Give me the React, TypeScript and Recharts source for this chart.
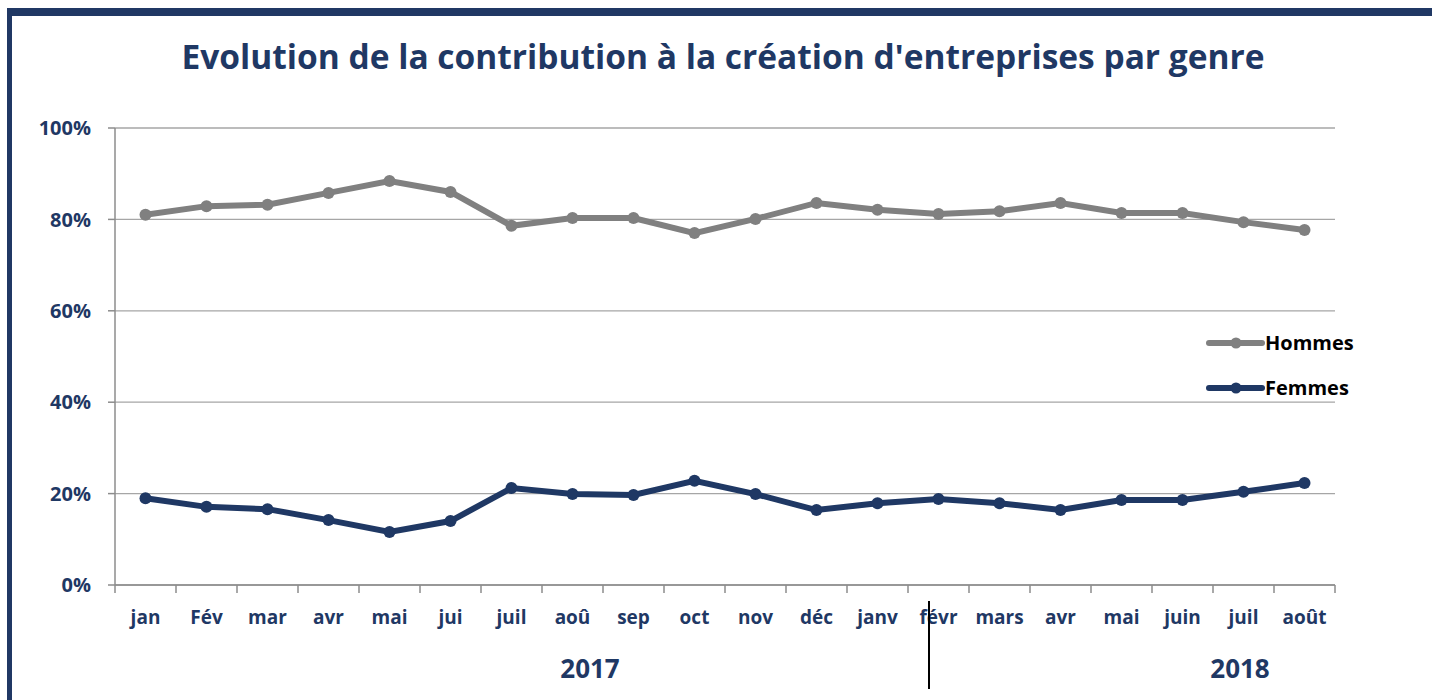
import React from 'react';
import { LineChart, Line, XAxis, YAxis, CartesianGrid } from 'recharts';

const months = ['jan', 'Fév', 'mar', 'avr', 'mai', 'jui', 'juil', 'aoû', 'sep', 'oct', 'nov', 'déc', 'janv', 'févr', 'mars', 'avr', 'mai', 'juin', 'juil', 'août'];
const hommes = [81.0, 82.9, 83.2, 85.8, 88.4, 86.0, 78.6, 80.3, 80.3, 77.0, 80.1, 83.6, 82.1, 81.2, 81.8, 83.6, 81.4, 81.4, 79.4, 77.7];
const femmes = [19.0, 17.1, 16.6, 14.2, 11.6, 14.0, 21.2, 19.9, 19.7, 22.8, 19.9, 16.4, 17.9, 18.8, 17.9, 16.4, 18.6, 18.6, 20.4, 22.3];
const yTicks = [0, 20, 40, 60, 80, 100];
const seriesNames = ['Hommes', 'Femmes'];
const yearLabels = ['2017', '2018'];
const title = "Evolution de la contribution à la création d'entreprises par genre";

const data = months.map((m, i) => ({ idx: i, month: m, Hommes: hommes[i], Femmes: femmes[i] }));

const NAVY = '#1f3864';
const GREY = '#808080';
const AXIS = '#8c8c8c';
const FONT = '"Open Sans", sans-serif';
const TICK_SIZE = 8;
const TICK_MARGIN = 18;

const MonthTick = (props: any) => {
  const { x, y, payload, index, visibleTicksCount, width } = props;
  const band = width / visibleTicksCount;
  const axisY = y - TICK_SIZE - TICK_MARGIN;
  const left = x - band / 2;
  const right = x + band / 2;
  return (
    <g>
      <line x1={left} x2={left} y1={axisY} y2={axisY + TICK_SIZE} stroke={AXIS} strokeWidth={1.5} />
      {index === visibleTicksCount - 1 && (
        <line x1={right} x2={right} y1={axisY} y2={axisY + TICK_SIZE} stroke={AXIS} strokeWidth={1.5} />
      )}
      <text x={x} y={y} dy="0.71em" textAnchor="middle" fill={NAVY} fontSize={19} fontWeight={700} fontFamily={FONT}>
        {months[payload.value]}
      </text>
    </g>
  );
};

const LegendBox = () => (
  <div style={{ position: 'absolute', left: 1205, top: 320, fontFamily: FONT }}>
    {seriesNames.map((n, i) => (
      <div key={n} style={{ display: 'flex', alignItems: 'center', height: 45 }}>
        <svg width={60} height={14}>
          <line x1={4} y1={7} x2={57} y2={7} stroke={i === 0 ? GREY : NAVY} strokeWidth={6} strokeLinecap="round" />
          <circle cx={31} cy={7} r={5.5} fill={i === 0 ? GREY : NAVY} />
        </svg>
        <span style={{ fontWeight: 700, fontSize: 20, color: '#000' }}>{n}</span>
      </div>
    ))}
  </div>
);

export default function App() {
  return (
    <div style={{ position: 'absolute', left: 0, top: 0, width: 1432, height: 700, overflow: 'hidden', background: '#fff' }}>
      <div style={{ position: 'absolute', left: 7, top: 8, width: 1425, height: 692, boxSizing: 'border-box', borderTop: '8px solid #203864', borderLeft: '5px solid #203864' }} />
      <div style={{ position: 'absolute', left: 0, width: 1446, top: 33, textAlign: 'center', fontFamily: FONT, fontWeight: 700, fontSize: 33.5, color: NAVY, whiteSpace: 'nowrap' }}>
        {title}
      </div>
      <div style={{ position: 'absolute', left: 0, top: 0 }}>
        <LineChart width={1432} height={700} data={data} margin={{ top: 128, right: 97, bottom: 114, left: 35 }}>
          <CartesianGrid vertical={false} stroke="#a6a6a6" strokeWidth={1.3} />
          <XAxis
            dataKey="idx"
            interval={0}
            height={1}
            stroke={AXIS}
            strokeWidth={1.5}
            tickLine={{ stroke: 'none' }}
            padding={{ left: 30.5, right: 30.5 }}
            tickSize={TICK_SIZE}
            tickMargin={TICK_MARGIN}
            tick={<MonthTick />}
          />
          <YAxis
            width={80}
            domain={[0, 100]}
            ticks={yTicks}
            interval={0}
            stroke={AXIS}
            strokeWidth={1.5}
            tickSize={7}
            tickMargin={17}
            tickFormatter={(v) => `${v}%`}
            tick={{ fill: NAVY, fontSize: 20, fontWeight: 700, fontFamily: FONT }}
          />
          <Line type="linear" dataKey="Hommes" stroke={GREY} strokeWidth={6} dot={{ r: 6, fill: GREY, stroke: GREY, strokeWidth: 0 }} isAnimationActive={false} />
          <Line type="linear" dataKey="Femmes" stroke={NAVY} strokeWidth={6} dot={{ r: 6, fill: NAVY, stroke: NAVY, strokeWidth: 0 }} isAnimationActive={false} />
        </LineChart>
      </div>
      <LegendBox />
      <div style={{ position: 'absolute', left: 590, top: 650, transform: 'translateX(-50%)', fontFamily: FONT, fontWeight: 700, fontSize: 26, color: NAVY }}>{yearLabels[0]}</div>
      <div style={{ position: 'absolute', left: 1240, top: 650, transform: 'translateX(-50%)', fontFamily: FONT, fontWeight: 700, fontSize: 26, color: NAVY }}>{yearLabels[1]}</div>
      <div style={{ position: 'absolute', left: 928, top: 601, width: 2, height: 88, background: '#000' }} />
    </div>
  );
}
